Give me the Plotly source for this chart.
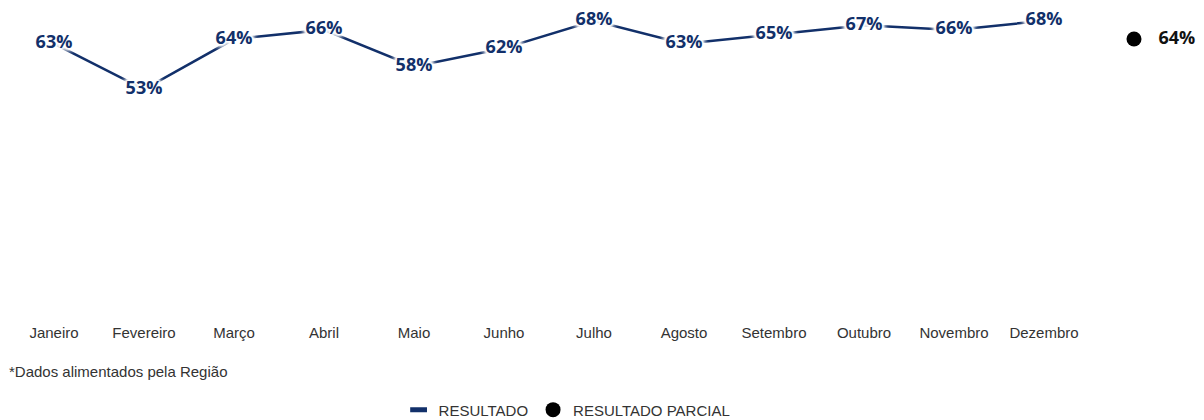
import plotly.graph_objects as go

# Monthly results (percent) and the partial result shown after December
months = ["Janeiro", "Fevereiro", "Março", "Abril", "Maio", "Junho", "Julho",
          "Agosto", "Setembro", "Outubro", "Novembro", "Dezembro"]
resultado = [63, 53, 64, 66, 58, 62, 68, 63, 65, 67, 66, 68]
parcial_label = " "
parcial_value = [64]

NAVY = "#12306a"
categories = months + [parcial_label]

fig = go.Figure()

# Line connecting the monthly results
fig.add_trace(go.Scatter(
    x=months, y=resultado, mode="lines",
    line=dict(color=NAVY, width=2.5),
    showlegend=False, hoverinfo="skip",
))

# Value labels on top of the line, with a white halo that hides the line underneath
halo = ", ".join(["white 0 0 3px"] * 8 + ["white 0 0 6px"] * 6)
fig.add_trace(go.Scatter(
    x=months, y=resultado, mode="text",
    text=[f"{v}%" for v in resultado],
    textposition="middle center",
    textfont=dict(family="Open Sans", size=18, color=NAVY, weight="bold", shadow=halo),
    showlegend=False, hoverinfo="skip", cliponaxis=False,
))

# Legend entry for the monthly series
fig.add_trace(go.Scatter(
    x=[None], y=[None], mode="markers", name="RESULTADO",
    marker=dict(symbol="line-ew", size=12, color=NAVY, line=dict(color=NAVY, width=5)),
))

# Partial result
fig.add_trace(go.Scatter(
    x=[parcial_label], y=parcial_value, mode="markers+text",
    name="RESULTADO PARCIAL",
    marker=dict(color="black", size=15),
    text=[f"   {v}%" for v in parcial_value],
    textposition="middle right",
    textfont=dict(family="Open Sans", size=18, color="#111111", weight="bold"),
    cliponaxis=False,
))

fig.add_annotation(
    text="*Dados alimentados pela Região",
    xref="paper", yref="paper", x=-0.002, y=-0.16,
    xanchor="left", yanchor="middle", showarrow=False,
    font=dict(family="Liberation Sans", size=15, color="#333333"),
)

fig.update_layout(
    width=1204, height=420,
    margin=dict(l=9, r=25, t=10, b=98, autoexpand=False),
    paper_bgcolor="white", plot_bgcolor="white",
    xaxis=dict(
        type="category", categoryorder="array", categoryarray=categories,
        range=[-0.5, 12.5], showgrid=False, zeroline=False, showline=False,
        ticks="", tickfont=dict(family="Liberation Sans", size=15, color="#333333"),
    ),
    yaxis=dict(range=[2.15, 70.35], visible=False, showgrid=False),
    legend=dict(
        orientation="h", x=0.477, xanchor="center",
        yref="container", y=0.024, yanchor="middle",
        font=dict(family="Liberation Sans", size=15, color="#333333"),
        itemwidth=30,
    ),
    showlegend=True,
)

fig.write_html("out.html")
